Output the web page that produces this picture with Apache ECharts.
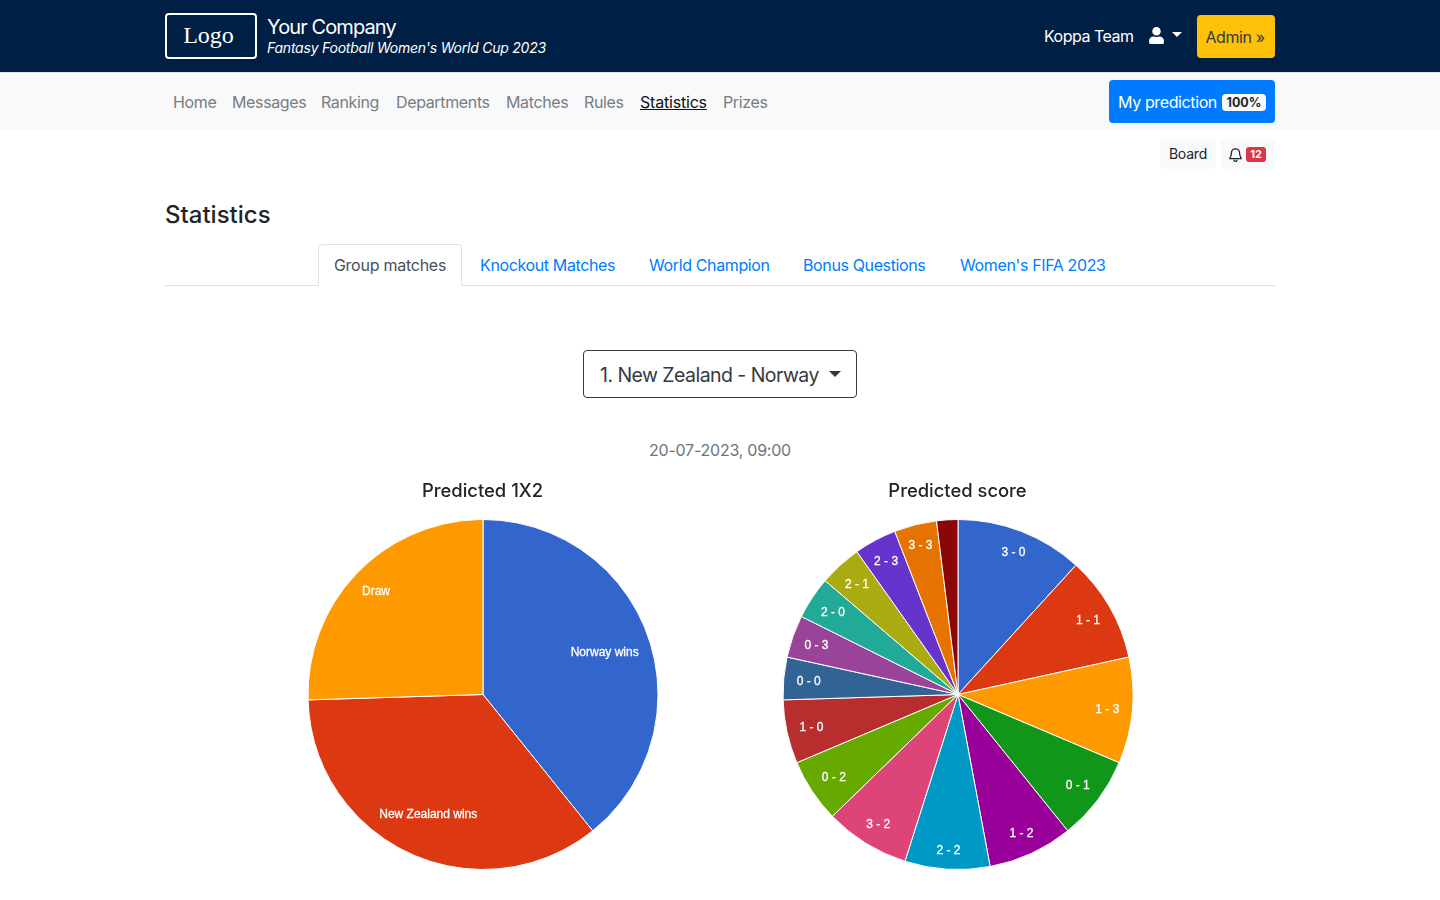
<!DOCTYPE html>
<html>
<head>
<meta charset="utf-8">
<title>Statistics</title>
<script src="https://cdn.jsdelivr.net/npm/echarts@6/dist/echarts.min.js"></script>
<style>
  * { box-sizing: border-box; }
  html, body { margin: 0; height: 100%; overflow: hidden; background: #fff; }
  body { font-family: Inter, "Noto Sans", sans-serif; color: #212529; font-size: 16px; position: relative; width: 1440px; height: 900px; }
  .abs { position: absolute; white-space: nowrap; }
  #top { left: 0; top: 0; width: 1440px; height: 72px; background: #001f44; }
  #sub { left: 0; top: 72px; width: 1440px; height: 58px; background: #f8f9fa; border-top: 1px solid #dee2e6; }
  #logo { left: 165px; top: 13px; width: 92px; height: 46px; border: 2px solid #fff; border-radius: 4px; color: #fff; font: 24px/41px "Liberation Serif", serif; text-align: center; padding-right: 5px; }
  #brand { left: 267px; top: 15px; color: #fff; font-size: 20px; line-height: 24px; letter-spacing: -0.9px; }
  #tagline { left: 267px; top: 39px; color: #fff; font-size: 14px; line-height: 18px; font-style: italic; letter-spacing: -0.23px; }
  #team { left: 1044px; top: 26px; color: #fff; font-size: 16px; line-height: 20px; letter-spacing: -0.5px; }
  #usericon { left: 1149px; top: 27px; }
  .caret { width: 0; height: 0; border-left: 5px solid transparent; border-right: 5px solid transparent; border-top: 5px solid; }
  #usercaret { left: 1172px; top: 32px; color: #fff; }
  #admin { left: 1197px; top: 15px; width: 78px; height: 43px; background: #ffc107; border-radius: 4px; text-align: center; line-height: 45px; color: #343a40; letter-spacing: -0.4px; padding-right: 2px; }
  .nav { top: 92px; color: #7a7c7f; line-height: 20px; letter-spacing: -0.36px; }
  #predict { left: 1109px; top: 80px; width: 166px; height: 43px; background: #007bff; border-radius: 4px; color: #fff; line-height: 45px; padding-left: 9px; letter-spacing: -0.38px; }
  #pct { left: 1222px; top: 94px; width: 44px; height: 17px; background: #f8f9fa; border-radius: 4px; color: #212529; font-size: 12.5px; font-weight: 700; text-align: center; line-height: 17px; }
  .small { top: 139px; height: 30px; background: #f8f9fa; border-radius: 4px; font-size: 14px; line-height: 30px; text-align: center; letter-spacing: -0.2px; }
  #count { left: 1246px; top: 147px; width: 20px; height: 15px; background: #dc3545; color: #fff; border-radius: 3px; font-size: 11px; font-weight: 700; text-align: center; line-height: 15px; }
  #heading { left: 165px; top: 200px; font-size: 24px; line-height: 30px; font-weight: 500; }
  #tabline { left: 165px; top: 285px; width: 1110px; height: 1px; background: #dee2e6; }
  #tabactive { left: 318px; top: 244px; width: 144px; height: 42px; background: #fff; border: 1px solid #dee2e6; border-bottom-color: #fff; border-radius: 4px 4px 0 0; text-align: center; line-height: 41px; color: #495057; letter-spacing: -0.25px; }
  .tab { top: 255px; color: #007bff; line-height: 20px; letter-spacing: -0.37px; }
  #select { left: 583px; top: 350px; width: 274px; height: 48px; border: 1px solid #343a40; border-radius: 4px; font-size: 19.5px; line-height: 48px; padding-left: 16px; color: #343a40; letter-spacing: -0.55px; }
  #selcaret { left: 829px; top: 371px; color: #343a40; border-left-width: 6px; border-right-width: 6px; border-top-width: 6px; }
  #date { left: 0; width: 1440px; top: 440px; text-align: center; color: #6c757d; line-height: 20px; letter-spacing: -0.24px; }
  #charts { left: 0; top: 470px; width: 1440px; height: 430px; }
</style>
</head>
<body>
<div class="abs" id="top"></div>
<div class="abs" id="sub"></div>
<div class="abs" id="logo">Logo</div>
<div class="abs" id="brand">Your Company</div>
<div class="abs" id="tagline">Fantasy Football Women's World Cup 2023</div>
<div class="abs" id="team">Koppa Team</div>
<svg class="abs" id="usericon" width="15" height="17" viewBox="0 0 448 512"><path fill="#fff" d="M224 256a128 128 0 1 0 0-256 128 128 0 0 0 0 256zm90 32h-17a174 174 0 0 1-146 0h-17A134 134 0 0 0 0 422v42a48 48 0 0 0 48 48h352a48 48 0 0 0 48-48v-42a134 134 0 0 0-134-134z"/></svg>
<div class="abs caret" id="usercaret"></div>
<div class="abs" id="admin">Admin »</div>
<div class="abs nav" style="left:173px">Home</div>
<div class="abs nav" style="left:232px">Messages</div>
<div class="abs nav" style="left:321px">Ranking</div>
<div class="abs nav" style="left:396px">Departments</div>
<div class="abs nav" style="left:506px">Matches</div>
<div class="abs nav" style="left:584px">Rules</div>
<div class="abs nav" style="left:640px;color:#111;text-decoration:underline;letter-spacing:-0.2px">Statistics</div>
<div class="abs nav" style="left:723px">Prizes</div>
<div class="abs" id="predict">My prediction</div>
<div class="abs" id="pct">100%</div>
<div class="abs small" style="left:1160px;width:56px">Board</div>
<div class="abs small" style="left:1221px;width:54px"></div>
<svg class="abs" style="left:1229px;top:147px" width="13" height="15" viewBox="0 0 16 18"><path fill="none" stroke="#212529" stroke-width="1.6" d="M8 2a5 5 0 0 0-5 5c0 4-2 6-2 7h14c0-1-2-3-2-7a5 5 0 0 0-5-5zM6 15.500a2 2 0 0 0 4 0"/></svg>
<div class="abs" id="count">12</div>
<div class="abs" id="heading">Statistics</div>
<div class="abs" id="tabline"></div>
<div class="abs" id="tabactive">Group matches</div>
<div class="abs tab" style="left:480px">Knockout Matches</div>
<div class="abs tab" style="left:649px">World Champion</div>
<div class="abs tab" style="left:803px">Bonus Questions</div>
<div class="abs tab" style="left:960px">Women's FIFA 2023</div>
<div class="abs" id="select">1. New Zealand - Norway</div>
<div class="abs caret" id="selcaret"></div>
<div class="abs" id="date">20-07-2023, 09:00</div>
<div class="abs" id="charts"></div>
<script>
const outcomeNames = ['Norway wins', 'New Zealand wins', 'Draw'];
const outcomeVotes = [20, 18, 13];
const scoreNames = ['3 - 0', '1 - 1', '1 - 3', '0 - 1', '1 - 2', '2 - 2', '3 - 2', '0 - 2', '1 - 0', '0 - 0', '0 - 3', '2 - 0', '2 - 1', '2 - 3', '3 - 3', ''];
const scoreVotes = [6, 5, 5, 4, 4, 4, 4, 3, 3, 2, 2, 2, 2, 2, 2, 1];
const palette = ['#3366cc', '#dc3912', '#ff9900', '#109618', '#990099', '#0099c6', '#dd4477', '#66aa00',
  '#b82e2e', '#316395', '#994499', '#22aa99', '#aaaa11', '#6633cc', '#e67300', '#8b0707'];

const pieRadius = 175;
const pieTop = 224.5; // centre y inside the chart box

// same idea as the original chart: small labels near the rim, big slices further in
function rimLabels(cx, values, labelRadius) {
  const total = values.reduce((a, b) => a + b, 0);
  return params => {
    const before = values.slice(0, params.dataIndex).reduce((a, b) => a + b, 0);
    const mid = (before + values[params.dataIndex] / 2) / total * Math.PI * 2;
    const r = labelRadius[params.dataIndex];
    return {
      x: cx + r * Math.sin(mid),
      y: pieTop + 1 - r * Math.cos(mid),
      align: 'center',
      verticalAlign: 'middle'
    };
  };
}

function pieSeries(cx, names, values, labelRadius) {
  return {
    type: 'pie',
    center: [cx, pieTop],
    radius: pieRadius,
    startAngle: 90,
    clockwise: true,
    silent: true,
    animation: false,
    // every pie restarts at the first colour
    data: names.map((name, i) => ({ name, value: values[i], itemStyle: { color: palette[i] } })),
    itemStyle: { borderColor: '#fff', borderWidth: 1 },
    label: {
      show: true, position: 'inside', formatter: '{b}', color: '#fff', fontSize: 12,
      fontFamily: 'Liberation Sans', textBorderColor: '#fff', textBorderWidth: 0.3
    },
    labelLine: { show: false },
    labelLayout: rimLabels(cx, values, labelRadius)
  };
}

const titleStyle = { fontFamily: 'Inter', fontSize: 18.4, fontWeight: 500, color: '#212529' };

const chart = echarts.init(document.getElementById('charts'), null, { renderer: 'canvas' });
chart.setOption({
  animation: false,
  title: [
    { text: 'Predicted 1X2', left: 482.5, top: 12, padding: 0, textAlign: 'center', textStyle: titleStyle },
    { text: 'Predicted score', left: 957.5, top: 12, padding: 0, textAlign: 'center', textStyle: titleStyle }
  ],
  series: [
    pieSeries(483, outcomeNames, outcomeVotes, [129, 131, 149]),
    pieSeries(958, scoreNames, scoreVotes, [153.5, 150, 150, 150, 152, 155, 151.5, 149, 150, 150, 150, 150, 150, 152, 154, 150])
  ]
});
</script>
</body>
</html>
